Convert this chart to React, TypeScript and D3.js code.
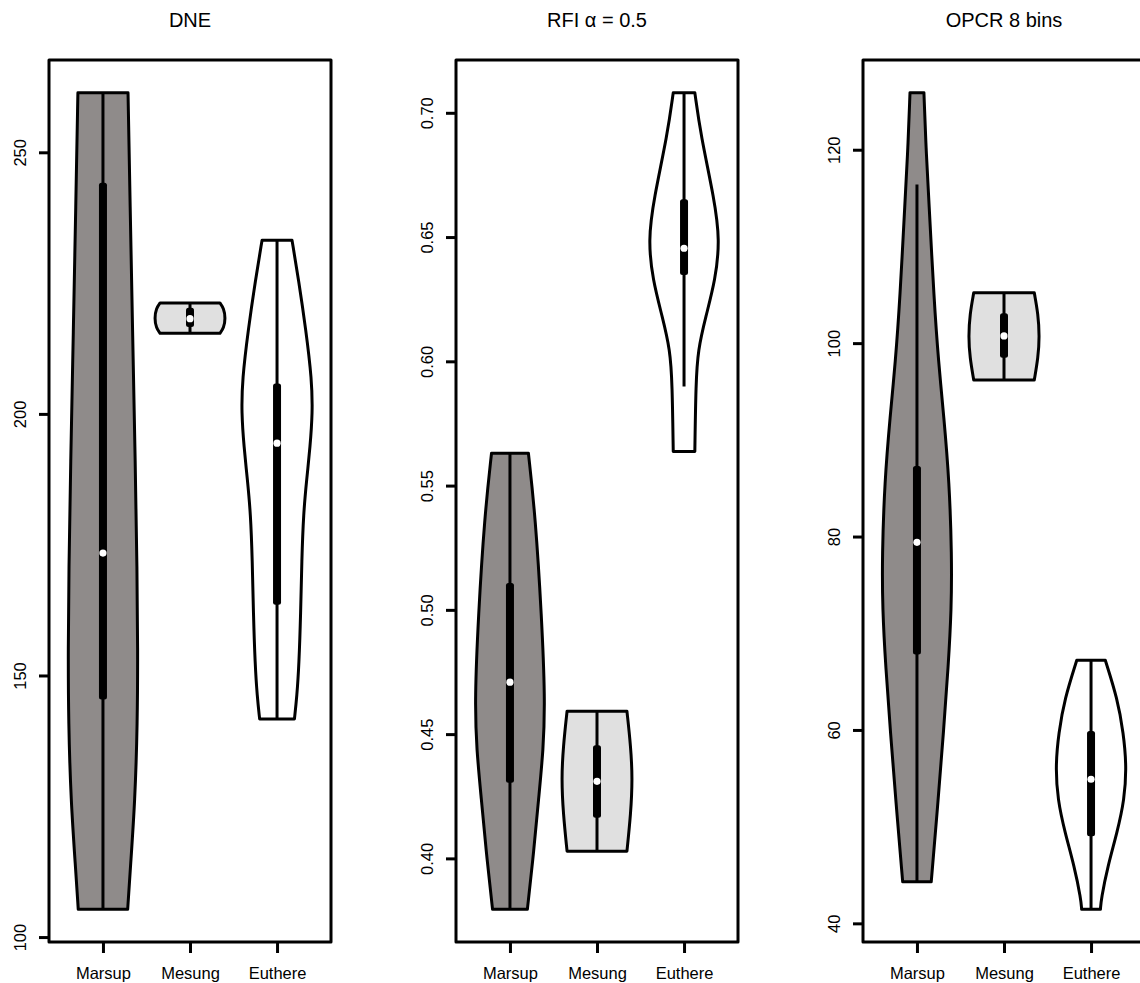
import * as d3 from "d3";
import { useEffect, useRef } from "react";

const groups = ["Marsup", "Mesung", "Euthere"];
const groupFills = ["#8f8b8a", "#e0e0e0", "#ffffff"];
const titles = ["DNE", "RFI \u03b1 = 0.5", "OPCR 8 bins"];

// tick values on the y axis of each panel
const dneTicks = [100, 150, 200, 250];
const rfiTicks = [0.4, 0.45, 0.5, 0.55, 0.6, 0.65, 0.7];
const opcrTicks = [40, 60, 80, 100, 120];
const tickDigits = [0, 2, 0];

// violin outlines: [value, relative half width]
const dneMarsup = [[105.3, 0.71], [113.5, 0.79], [126, 0.92], [141, 0.99], [155, 1.0], [170, 0.98], [190, 0.93], [216, 0.85], [240, 0.78], [261.4, 0.72]];
const dneMesung = [[215.4, 0.86], [216.4, 0.97], [218.3, 1.02], [220.2, 0.97], [221.2, 0.86]];
const dneEuthere = [[141.7, 0.5], [146, 0.57], [152, 0.63], [162, 0.68], [172, 0.71], [181, 0.76], [187.4, 0.85], [193.7, 0.95], [200.2, 1.02], [206.5, 1.0], [216, 0.83], [225.6, 0.62], [233.2, 0.43]];

const rfiMarsup = [[0.3795, 0.5], [0.4036, 0.69], [0.4237, 0.82], [0.4438, 0.96], [0.4639, 1.01], [0.4973, 0.91], [0.5376, 0.73], [0.563, 0.53]];
const rfiMesung = [[0.4029, 0.86], [0.418, 0.97], [0.432, 1.02], [0.445, 0.97], [0.4592, 0.86]];
const rfiEuthere = [[0.5637, 0.31], [0.5913, 0.34], [0.6046, 0.4], [0.6178, 0.62], [0.6327, 0.9], [0.6488, 1.03], [0.6653, 0.87], [0.691, 0.48], [0.7081, 0.31]];

const opcrMarsup = [[44.3, 0.41], [52.8, 0.61], [59.7, 0.76], [66.6, 0.9], [72.5, 0.99], [78, 1.0], [85.6, 0.93], [92.5, 0.77], [98, 0.62], [104.5, 0.49], [114.9, 0.34], [120.1, 0.26], [125.9, 0.2]];
const opcrMesung = [[96.2, 0.87], [98.5, 0.98], [100.7, 1.02], [103, 0.98], [105.2, 0.87]];
const opcrEuthere = [[41.45, 0.27], [42.5, 0.29], [45.9, 0.48], [49.4, 0.75], [52.8, 0.96], [56.3, 1.02], [59.7, 0.93], [63.2, 0.76], [67.2, 0.41]];

// box stats: [lower whisker, q1, median, q3, upper whisker]
const dneBoxes = [[105.3, 145.4, 173.4, 244.2, 261.4], [215.4, 216.6, 218.2, 220.3, 221.2], [141.7, 163.5, 194.4, 205.8, 233.2]];
const rfiBoxes = [[0.3795, 0.4304, 0.4709, 0.5108, 0.563], [0.4029, 0.4163, 0.431, 0.4455, 0.4592], [0.5899, 0.6347, 0.6455, 0.6652, 0.7081]];
const opcrBoxes = [[44.3, 67.8, 79.4, 87.3, 116.4], [96.2, 98.5, 100.75, 103.1, 105.2], [41.45, 49.0, 54.9, 59.9, 67.2]];

const panels = [
  { violins: [dneMarsup, dneMesung, dneEuthere], boxes: dneBoxes, ticks: dneTicks },
  { violins: [rfiMarsup, rfiMesung, rfiEuthere], boxes: rfiBoxes, ticks: rfiTicks },
  { violins: [opcrMarsup, opcrMesung, opcrEuthere], boxes: opcrBoxes, ticks: opcrTicks },
];

const W = 1140;
const H = 983;
const FONT = "'Liberation Sans', Arial, Helvetica, sans-serif";

const App = () => {
  const ref = useRef<SVGSVGElement>(null);

  useEffect(() => {
    const svg = d3.select(ref.current);
    svg.selectAll("*").remove();

    const top = 60;
    const bottom = 942;
    const pw = 282;

    panels.forEach((p, i) => {
      const left = 49 + i * 407;
      const x = d3.scaleLinear().domain([0.38, 3.62]).range([left, left + pw]);
      const unit = x(1) - x(0);

      // y range like R: data range padded by 4%
      const vals = p.violins.flat().map((d) => d[0]);
      const [lo, hi] = d3.extent(vals) as [number, number];
      const pad = (hi - lo) * 0.04;
      const y = d3.scaleLinear().domain([lo - pad, hi + pad]).range([bottom, top]);

      const g = svg.append("g");

      p.violins.forEach((v, j) => {
        const cx = x(j + 1);
        const area = d3
          .area<number[]>()
          .y((d) => y(d[0]))
          .x0((d) => cx - d[1] * 0.4 * unit)
          .x1((d) => cx + d[1] * 0.4 * unit)
          .curve(d3.curveBasis);
        g.append("path")
          .attr("d", area(v))
          .attr("fill", groupFills[j])
          .attr("stroke", "#000")
          .attr("stroke-width", 3)
          .attr("stroke-linejoin", "round");

        const b = p.boxes[j];
        g.append("line")
          .attr("x1", cx).attr("x2", cx)
          .attr("y1", y(b[0])).attr("y2", y(b[4]))
          .attr("stroke", "#000")
          .attr("stroke-width", 3);
        g.append("rect")
          .attr("x", cx - 4)
          .attr("width", 8)
          .attr("y", y(b[3]))
          .attr("height", y(b[1]) - y(b[3]))
          .attr("rx", 2.5)
          .attr("fill", "#000");
        g.append("circle")
          .attr("cx", cx)
          .attr("cy", y(b[2]))
          .attr("r", 3.6)
          .attr("fill", "#fff");
      });

      // frame
      g.append("rect")
        .attr("x", left).attr("y", top)
        .attr("width", pw).attr("height", bottom - top)
        .attr("fill", "none")
        .attr("stroke", "#000")
        .attr("stroke-width", 3)
        .attr("stroke-linejoin", "round");

      // y axis
      const yAxis = g.append("g")
        .attr("transform", `translate(${left},0)`)
        .call(
          d3.axisLeft(y)
            .tickValues(p.ticks)
            .tickSize(10)
            .tickFormat((d) => d3.format(`.${tickDigits[i]}f`)(d as number))
        );
      yAxis.select(".domain").remove();
      yAxis.selectAll(".tick line").attr("stroke-width", 3);
      yAxis.selectAll(".tick text")
        .attr("transform", "rotate(-90)")
        .attr("x", 0)
        .attr("y", -23)
        .attr("dy", 0)
        .attr("text-anchor", "middle")
        .attr("font-size", 16.5)
        .attr("font-family", FONT)
        .attr("fill", "#000");

      // x axis
      const xAxis = g.append("g")
        .attr("transform", `translate(0,${bottom})`)
        .call(
          d3.axisBottom(x)
            .tickValues([1, 2, 3])
            .tickSize(11)
            .tickFormat((d) => groups[(d as number) - 1])
        );
      xAxis.select(".domain").remove();
      xAxis.selectAll(".tick line").attr("stroke-width", 3);
      xAxis.selectAll(".tick text")
        .attr("y", 37)
        .attr("dy", 0)
        .attr("font-size", 16.5)
        .attr("font-family", FONT)
        .attr("fill", "#000");

      // title
      g.append("text")
        .attr("x", left + pw / 2)
        .attr("y", 27)
        .attr("text-anchor", "middle")
        .attr("font-size", 20)
        .attr("font-family", FONT)
        .text(titles[i]);
    });
  }, []);

  return (
    <svg
      ref={ref}
      width={W}
      height={H}
      style={{ position: "absolute", left: 0, top: 0, background: "#fff" }}
    ></svg>
  );
};

export default App;
